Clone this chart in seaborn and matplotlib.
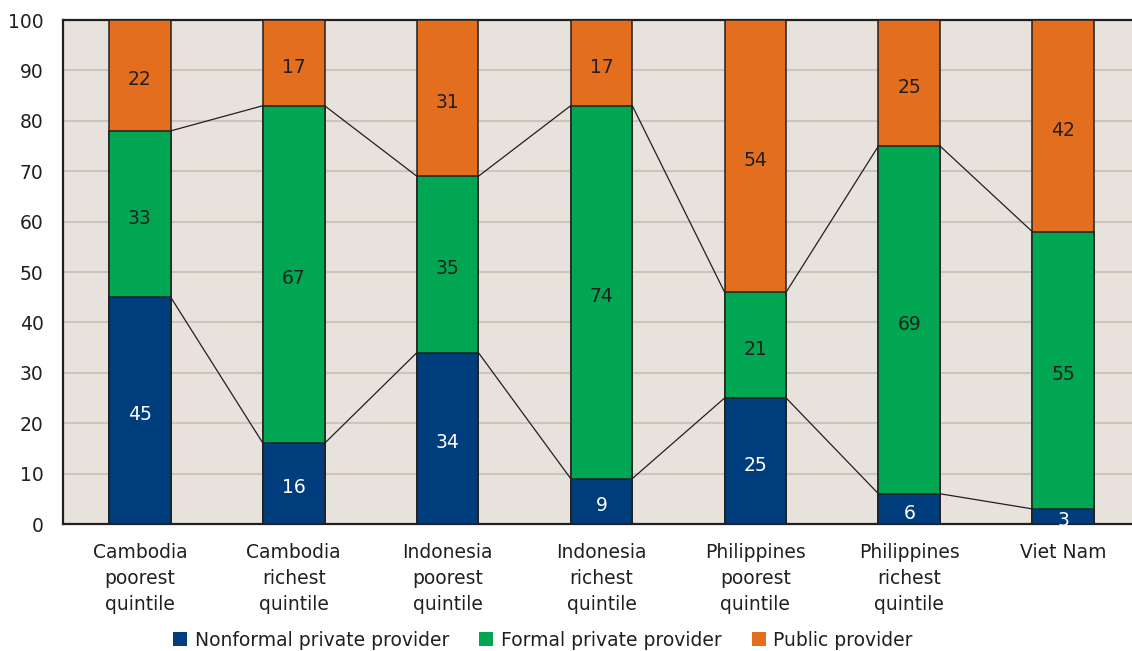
import matplotlib
matplotlib.use("Agg")
import matplotlib.pyplot as plt
from matplotlib.patches import Patch
from matplotlib.ticker import FixedLocator
import numpy as np
import pandas as pd
import seaborn as sns

# Share of care by provider type (%)
categories = [
    "Cambodia\npoorest\nquintile",
    "Cambodia\nrichest\nquintile",
    "Indonesia\npoorest\nquintile",
    "Indonesia\nrichest\nquintile",
    "Philippines\npoorest\nquintile",
    "Philippines\nrichest\nquintile",
    "Viet Nam",
]
nonformal = [45, 16, 34, 9, 25, 6, 3]
formal = [33, 67, 35, 74, 21, 69, 55]
public = [22, 17, 31, 17, 54, 25, 42]
series_names = ["Nonformal private provider", "Formal private provider", "Public provider"]

NAVY = "#003d7c"
GREEN = "#00a651"
ORANGE = "#e36e1e"
BG = "#e8e2dc"
GRID = "#cdc4ba"
INK = "#231f20"
FS = 13.5

sns.set_style("white")
plt.rcParams["font.family"] = ["DejaVu Sans"]

df = pd.DataFrame({"category": categories, "nonformal": nonformal,
                   "formal": formal, "public": public})
df["lvl1"] = df["nonformal"]
df["lvl2"] = df["nonformal"] + df["formal"]
df["lvl3"] = df["lvl2"] + df["public"]

fig = plt.figure(figsize=(11.32, 6.51), dpi=100)
ax = fig.add_axes([63 / 1132, 127 / 651, 1077 / 1132, 504 / 651])
ax.set_facecolor(BG)

bar_w = 0.40
# Stacked bars: draw cumulative totals from the top layer down
for col, colour in [("lvl3", ORANGE), ("lvl2", GREEN), ("lvl1", NAVY)]:
    sns.barplot(data=df, x="category", y=col, color=colour, width=bar_w,
                edgecolor=INK, linewidth=1.1, saturation=1, errorbar=None,
                ax=ax, zorder=3)

# Series lines joining the segment boundaries of neighbouring bars
n = len(categories)
for level in ["lvl1", "lvl2"]:
    vals = df[level].to_numpy()
    for i in range(n - 1):
        ax.plot([i + bar_w / 2, i + 1 - bar_w / 2], [vals[i], vals[i + 1]],
                color=INK, lw=0.9, zorder=2)

# Value labels in the middle of each segment
for i in range(n):
    b0 = 0
    for vals, txtcol in [(nonformal, "white"), (formal, INK), (public, INK)]:
        v = vals[i]
        ax.annotate(f"{v}", xy=(i, b0 + v / 2), xytext=(0, -3),
                    textcoords="offset points", ha="center", va="center",
                    fontsize=FS, color=txtcol, zorder=5)
        b0 += v

ax.set_ylim(0, 100)
ax.set_xlim(-0.5, n - 0.5)
ax.set_yticks(np.arange(0, 101, 10))
ax.yaxis.grid(True, color=GRID, lw=1.5, zorder=0)
ax.xaxis.grid(False)
ax.set_axisbelow(True)
ax.set_xlabel("")
ax.set_ylabel("")

ax.tick_params(axis="y", direction="out", length=5, width=1, color=INK,
               labelsize=FS, labelcolor=INK, pad=9)
ax.tick_params(axis="x", which="major", length=0, labelsize=FS,
               labelcolor=INK, pad=14)
ax.xaxis.set_minor_locator(FixedLocator(np.arange(-0.5, n, 1.0)))
ax.tick_params(axis="x", which="minor", direction="out", length=6, width=1,
               color=INK)
for lbl in ax.get_xticklabels():
    lbl.set_linespacing(1.45)

for side in ["left", "bottom", "top", "right"]:
    ax.spines[side].set_visible(True)
    ax.spines[side].set_color(INK)
    ax.spines[side].set_linewidth(1.6)

handles = [Patch(facecolor=c, edgecolor="none", label=l)
           for c, l in zip([NAVY, GREEN, ORANGE], series_names)]
leg = fig.legend(handles=handles, loc="center",
                 bbox_to_anchor=(543 / 1132, 1 - 640 / 651),
                 ncol=3, frameon=False, handlelength=0.75, handleheight=0.75,
                 handletextpad=0.4, columnspacing=1.6, fontsize=FS)
for t in leg.get_texts():
    t.set_color(INK)

fig.savefig("out.png", dpi=100, facecolor="white")
